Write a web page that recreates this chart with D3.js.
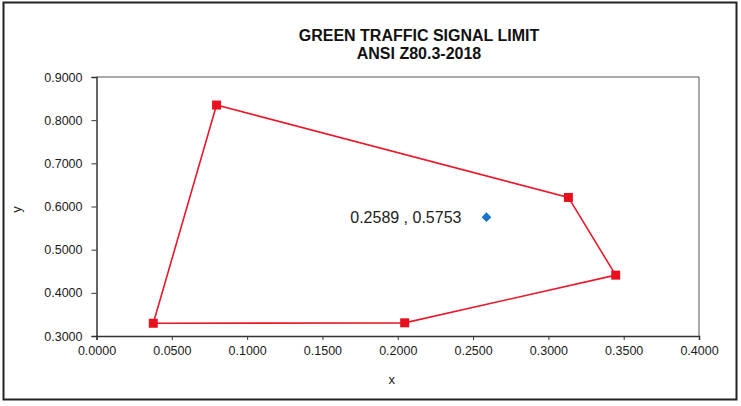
<!DOCTYPE html>
<html>
<head>
<meta charset="utf-8">
<script src="https://cdn.jsdelivr.net/npm/d3@7"></script>
<style>
  body { margin: 0; background: #fff; }
  text { font-family: "Liberation Sans", Arial, sans-serif; }
</style>
</head>
<body>
<svg id="chart" width="741" height="406"></svg>
<script>
// boundary of the green signal region (closed polygon)
const limitX = [0.0377, 0.0797, 0.3133, 0.3447, 0.2046]
const limitY = [0.3295, 0.8350, 0.6210, 0.4410, 0.3305]
// measured point
const pointX = [0.2589]
const pointY = [0.5753]
const xTicks = [0, 0.05, 0.1, 0.15, 0.2, 0.25, 0.3, 0.35, 0.4]
const yTicks = [0.3, 0.4, 0.5, 0.6, 0.7, 0.8, 0.9]
const titleLines = ['GREEN TRAFFIC SIGNAL LIMIT', 'ANSI Z80.3-2018']

const svg = d3.select('#chart')
const margin = { left: 96.5, top: 77, right: 741 - 699, bottom: 406 - 336 }
const width = 741, height = 406

// outer frame
svg.append('rect')
    .attr('x', 3.5).attr('y', 2.5)
    .attr('width', 733).attr('height', 397)
    .attr('fill', 'none')
    .attr('stroke', '#222')
    .attr('stroke-width', 2)

const x = d3.scaleLinear().domain([0, 0.4]).range([margin.left, width - margin.right])
const y = d3.scaleLinear().domain([0.3, 0.9]).range([height - margin.bottom, margin.top])

// plot frame (top and right)
svg.append('path')
    .attr('d', `M${x(0)},${y(0.9)}H${x(0.4)}V${y(0.3)}`)
    .attr('fill', 'none')
    .attr('stroke', '#555')
    .attr('stroke-width', 1)

const xAxis = svg.append('g')
    .attr('transform', `translate(0,${y(0.3)})`)
    .call(d3.axisBottom(x).tickValues(xTicks).tickFormat(d3.format('.4f')).tickSize(4).tickPadding(6))
const yAxis = svg.append('g')
    .attr('transform', `translate(${x(0)},0)`)
    .call(d3.axisLeft(y).tickValues(yTicks).tickFormat(d3.format('.4f')).tickSize(5).tickPadding(9))

;[xAxis, yAxis].forEach(g => {
    g.select('.domain').attr('stroke', '#333').attr('stroke-width', 1.5)
    g.selectAll('.tick line').attr('stroke', '#333')
    g.selectAll('.tick text')
        .attr('fill', '#1a1a1a')
        .style('font-size', '12.5px')
        .style('font-family', '"Liberation Sans", Arial, sans-serif')
})

// axis titles
svg.append('text')
    .attr('x', x(0.2) - 6).attr('y', 384)
    .attr('text-anchor', 'middle')
    .style('font-size', '13px')
    .attr('fill', '#222')
    .text('x')
svg.append('text')
    .attr('transform', `translate(21,${y(0.6) + 3}) rotate(-90)`)
    .attr('text-anchor', 'middle')
    .style('font-size', '13px')
    .attr('fill', '#222')
    .text('y')

// title
svg.selectAll('.title')
    .data(titleLines)
    .enter()
    .append('text')
    .attr('class', 'title')
    .attr('x', 419)
    .attr('y', (d, i) => 41 + i * 18)
    .attr('text-anchor', 'middle')
    .style('font-size', '16px')
    .style('font-weight', 'bold')
    .attr('fill', '#111')
    .text(d => d)

// limit polygon
const limit = limitX.map((v, i) => [v, limitY[i]])
svg.append('path')
    .datum(limit)
    .attr('d', d3.line().x(d => x(d[0])).y(d => y(d[1])).curve(d3.curveLinearClosed))
    .attr('fill', 'none')
    .attr('stroke', '#e8182a')
    .attr('stroke-width', 1.6)

svg.selectAll('.corner')
    .data(limit)
    .enter()
    .append('rect')
    .attr('class', 'corner')
    .attr('x', d => x(d[0]) - 4.5)
    .attr('y', d => y(d[1]) - 4.5)
    .attr('width', 9)
    .attr('height', 9)
    .attr('fill', '#e8101e')

// measured point with label
const points = pointX.map((v, i) => [v, pointY[i]])
svg.selectAll('.pt')
    .data(points)
    .enter()
    .append('path')
    .attr('class', 'pt')
    .attr('d', d3.symbol().type(d3.symbolDiamond2).size(60))
    .attr('transform', d => `translate(${x(d[0])},${y(d[1])})`)
    .attr('fill', '#1874cd')

svg.selectAll('.pt-label')
    .data(points)
    .enter()
    .append('text')
    .attr('class', 'pt-label')
    .attr('x', d => x(d[0]) - 25)
    .attr('y', d => y(d[1]) + 6)
    .attr('text-anchor', 'end')
    .style('font-size', '16px')
    .attr('fill', '#222')
    .text(d => `${d[0].toFixed(4)} , ${d[1].toFixed(4)}`)
</script>
</body>
</html>
